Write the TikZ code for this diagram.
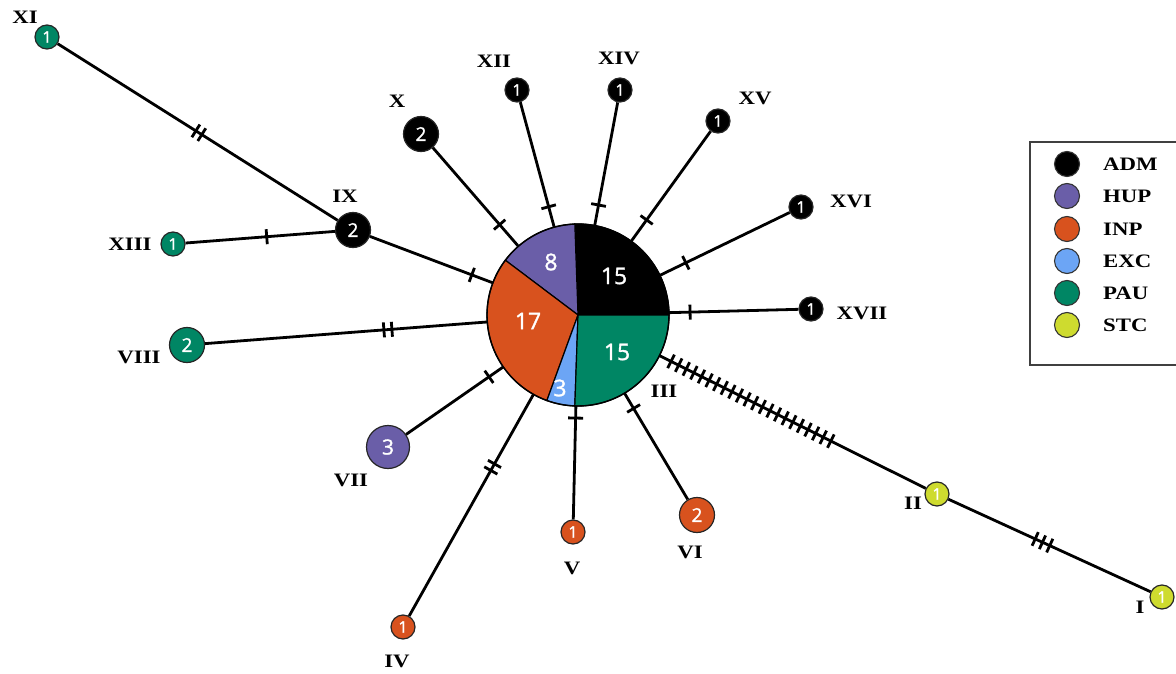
\documentclass[tikz,border=0pt]{standalone}
\usepackage{fontspec}
\usetikzlibrary{calc}
\newfontfamily\labfont{Liberation Serif}[FakeStretch=1.2]
\newfontfamily\numfont{Open Sans}[FakeBold=1.3]
\definecolor{adm}{RGB}{0,0,0}
\definecolor{hup}{RGB}{106,94,168}
\definecolor{inp}{RGB}{216,82,30}
\definecolor{exc}{RGB}{108,165,245}
\definecolor{pau}{RGB}{0,134,100}
\definecolor{stc}{RGB}{206,219,47}
\newcommand\tkd[3]{\draw[tickst] ($(#1)!#3!(#2)!7.5pt!90:(#2)$) -- ($(#1)!#3!(#2)!7.5pt!-90:(#2)$);}
\tikzset{
  conn/.style={line width=2.8pt, black},
  tickst/.style={line width=2.8pt, black},
  hap/.style={circle, draw=black!85, line width=1.2pt, inner sep=0pt, text=white},
  h1/.style={hap, minimum size=24pt, font=\numfont\fontsize{16}{16}\selectfont},
  h2/.style={hap, minimum size=35pt, font=\numfont\fontsize{19}{19}\selectfont},
  h3/.style={hap, minimum size=43pt, font=\numfont\fontsize{21}{21}\selectfont},
  lab/.style={inner sep=0pt, font=\labfont\bfseries\fontsize{19}{19}\selectfont},
  slice/.style={draw=black, line width=1.2pt},
  pienum/.style={inner sep=0pt, text=white, font=\numfont\fontsize{23}{23}\selectfont},
  legdot/.style={circle, draw=black!80, line width=1.1pt, minimum size=25pt, inner sep=0pt},
}
\begin{document}
\begin{tikzpicture}[x=1pt, y=-1pt]
\useasboundingbox (0,0) rectangle (1176,674);
% central pie node
\node[circle, minimum size=182pt, inner sep=0pt] (P) at (578,315) {};
% haplotype nodes
\node[h1, fill=pau] (XI) at (47,37) {1};
\node[h2, fill=adm] (IX) at (353,230) {2};
\node[h1, fill=pau] (XIII) at (173,244) {1};
\node[h2, fill=pau] (VIII) at (187,345) {2};
\node[h3, fill=hup] (VII) at (388,447) {3};
\node[h1, fill=inp] (IV) at (403,627) {1};
\node[h1, fill=inp] (V) at (573,532) {1};
\node[h2, fill=inp] (VI) at (697,515) {2};
\node[h1, fill=stc] (II) at (937,494) {1};
\node[h1, fill=stc] (I) at (1162,597) {1};
\node[h1, fill=adm] (XVII) at (811,309) {1};
\node[h1, fill=adm] (XVI) at (801,207) {1};
\node[h1, fill=adm] (XV) at (718,121) {1};
\node[h1, fill=adm] (XIV) at (620,90) {1};
\node[h1, fill=adm] (XII) at (517,90) {1};
\node[h2, fill=adm] (X) at (421,134) {2};
% connectors
\draw[conn] (XI) -- (IX);
\draw[conn] (XIII) -- (IX);
\draw[conn] (IX) -- (P);
\draw[conn] (X) -- (P);
\draw[conn] (XII) -- (P);
\draw[conn] (XIV) -- (P);
\draw[conn] (XV) -- (P);
\draw[conn] (XVI) -- (P);
\draw[conn] (XVII) -- (P);
\draw[conn] (VIII) -- (P);
\draw[conn] (VII) -- (P);
\draw[conn] (IV) -- (P);
\draw[conn] (V) -- (P);
\draw[conn] (VI) -- (P);
\draw[conn] (P) -- (II);
\draw[conn] (II) -- (I);
% mutation ticks
\tkd{XI}{IX}{176pt}\tkd{XI}{IX}{183pt}
\tkd{XIII}{IX}{94pt}
\tkd{IX}{P}{127pt}
\tkd{X}{P}{120pt}
\tkd{XII}{P}{121pt}
\tkd{XIV}{P}{117pt}
\tkd{XV}{P}{122pt}
\tkd{XVI}{P}{128pt}
\tkd{XVII}{P}{121pt}
\tkd{VIII}{P}{197.5pt}\tkd{VIII}{P}{205.5pt}
\tkd{VII}{P}{123pt}
\tkd{IV}{P}{179.5pt}\tkd{IV}{P}{187pt}
\tkd{V}{P}{114pt}
\tkd{VI}{P}{124pt}
\foreach \i in {0,...,21}{\pgfmathsetmacro\dd{104+8.5*\i}\tkd{P}{II}{\dd pt}}
\tkd{II}{I}{108pt}\tkd{II}{I}{116pt}\tkd{II}{I}{124pt}
% pie slices
\fill[adm, slice] (P.center) -- ++(0:91) arc[start angle=0, end angle=-92, radius=91] -- cycle;
\fill[hup, slice] (P.center) -- ++(-92:91) arc[start angle=-92, end angle=-143, radius=91] -- cycle;
\fill[inp, slice] (P.center) -- ++(-143:91) arc[start angle=-143, end angle=-250, radius=91] -- cycle;
\fill[exc, slice] (P.center) -- ++(-250:91) arc[start angle=-250, end angle=-268, radius=91] -- cycle;
\fill[pau, slice] (P.center) -- ++(-268:91) arc[start angle=-268, end angle=-360, radius=91] -- cycle;
\draw[line width=1.4pt] (P.center) circle[radius=91];
\node[pienum] (n15a) at (614,276) {15};
\node[pienum] (n8) at (551,262) {8};
\node[pienum] (n17) at (528,321) {17};
\node[pienum] (n3) at (560,388) {3};
\node[pienum] (n15b) at (617,352) {15};
% labels
\node[lab] (lXI) at (25,17) {XI};
\node[lab] (lIX) at (345,196) {IX};
\node[lab] (lXIII) at (130,244) {XIII};
\node[lab] (lVIII) at (139,357) {VIII};
\node[lab] (lVII) at (351,480) {VII};
\node[lab] (lIV) at (397,661) {IV};
\node[lab] (lV) at (572,568) {V};
\node[lab] (lVI) at (690,552) {VI};
\node[lab] (lIII) at (664,391) {III};
\node[lab] (lII) at (913,503) {II};
\node[lab] (lI) at (1140,607) {I};
\node[lab] (lXVII) at (862,313) {XVII};
\node[lab] (lXVI) at (851,201) {XVI};
\node[lab] (lXV) at (755,98) {XV};
\node[lab] (lXIV) at (619,58) {XIV};
\node[lab] (lXII) at (494,61) {XII};
\node[lab] (lX) at (397,101) {X};
% legend
\draw[line width=1.3pt, black!75] (1030,142) rectangle (1195,365);
\foreach \c/\t/\y [count=\k] in {adm/ADM/164, hup/HUP/196, inp/INP/229, exc/EXC/261, pau/PAU/293, stc/STC/325}{
  \node[legdot, fill=\c] (d\k) at (1067,\y) {};
  \node[lab, anchor=west] (t\k) at (1103,\y) {\t};
}
\end{tikzpicture}
\end{document}
